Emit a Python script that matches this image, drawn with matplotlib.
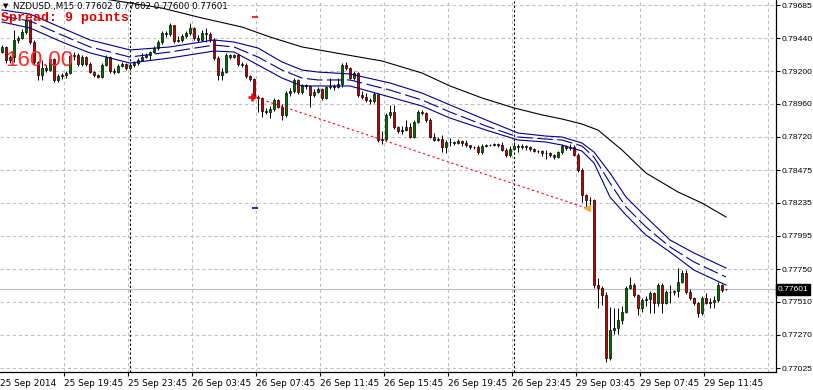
import numpy as np
import matplotlib.pyplot as plt
import matplotlib.transforms as mtransforms

# NZDUSD M15 свечи, цены в пунктах (1e-5)
first_open = 79341
closes = np.array([
    79378, 79282, 79304, 79429, 79443, 79487, 79575, 79414, 79268, 79172,
    79224, 79209, 79290, 79136, 79165, 79172, 79187, 79312, 79319, 79253,
    79304, 79253, 79194, 79172, 79158, 79246, 79304, 79202, 79194, 79238,
    79253, 79224, 79246, 79260, 79282, 79304, 79319, 79341, 79370, 79414,
    79480, 79473, 79539, 79422, 79429, 79458, 79480, 79517, 79443, 79429,
    79480, 79473, 79429, 79297, 79172, 79194, 79319, 79304, 79319, 79253,
    79246, 79165, 79143, 79011, 79004, 78909, 78901, 78923, 78989, 78938,
    78879, 79040, 79055, 79136, 79048, 79099, 79092, 79026, 79048, 79070,
    79004, 79084, 79092, 79084, 79106, 79246, 79224, 79150, 79187, 79026,
    79011, 78989, 78982, 79033, 78696, 78703, 78879, 78901, 78791, 78762,
    78769, 78791, 78718, 78828, 78901, 78894, 78843, 78718, 78696, 78703,
    78645, 78681, 78681, 78674, 78689, 78674, 78659, 78645, 78645, 78608,
    78652, 78659, 78659, 78667, 78659, 78623, 78586, 78630, 78652, 78645,
    78652, 78645, 78630, 78615, 78615, 78601, 78601, 78586, 78571, 78608,
    78652, 78637, 78645, 78586, 78476, 78293, 78256, 78256, 77633, 77611,
    77560, 77099, 77304, 77318, 77377, 77436, 77611, 77633, 77560, 77465,
    77524, 77531, 77575, 77502, 77633, 77502, 77582, 77582, 77590, 77655,
    77721, 77582, 77538, 77502, 77428, 77538, 77502, 77509, 77524, 77633,
    77597,
]) / 1e5
highs = np.array([
    79392, 79385, 79319, 79502, 79458, 79509, 79597, 79583, 79429, 79275,
    79282, 79246, 79319, 79297, 79180, 79187, 79202, 79326, 79341, 79334,
    79319, 79312, 79268, 79202, 79180, 79260, 79319, 79312, 79224, 79253,
    79268, 79260, 79260, 79275, 79297, 79334, 79334, 79348, 79385, 79429,
    79495, 79495, 79553, 79531, 79458, 79473, 79495, 79553, 79524, 79465,
    79502, 79517, 79487, 79443, 79312, 79224, 79334, 79326, 79326, 79326,
    79268, 79260, 79172, 79150, 79026, 79011, 78931, 78945, 79004, 78996,
    78960, 79055, 79077, 79150, 79143, 79106, 79106, 79099, 79070, 79084,
    79077, 79092, 79150, 79106, 79150, 79260, 79268, 79231, 79202, 79194,
    79055, 79040, 79004, 79048, 79026, 78762, 78894, 78953, 78953, 78799,
    78799, 78843, 78821, 78843, 78916, 78916, 78901, 78857, 78747, 78718,
    78733, 78696, 78711, 78689, 78703, 78696, 78696, 78659, 78652, 78659,
    78667, 78667, 78667, 78674, 78674, 78681, 78637, 78652, 78681, 78667,
    78667, 78659, 78652, 78637, 78623, 78623, 78623, 78608, 78593, 78615,
    78667, 78659, 78667, 78659, 78601, 78491, 78300, 78278, 78264, 77685,
    77626, 77582, 77472, 77465, 77465, 77480, 77626, 77692, 77648, 77568,
    77538, 77553, 77590, 77582, 77648, 77648, 77597, 77633, 77597, 77758,
    77743, 77743, 77604, 77546, 77509, 77553, 77575, 77538, 77553, 77655,
    77641,
]) / 1e5
lows = np.array([
    79334, 79260, 79260, 79268, 79407, 79436, 79473, 79400, 79253, 79136,
    79136, 79194, 79202, 79121, 79121, 79143, 79150, 79180, 79282, 79238,
    79238, 79238, 79187, 79158, 79150, 79150, 79238, 79187, 79180, 79187,
    79231, 79209, 79209, 79231, 79246, 79275, 79297, 79282, 79334, 79356,
    79400, 79451, 79458, 79407, 79414, 79414, 79443, 79465, 79429, 79414,
    79422, 79414, 79414, 79282, 79136, 79136, 79187, 79290, 79297, 79238,
    79231, 79150, 79128, 78996, 78901, 78865, 78887, 78857, 78909, 78931,
    78843, 78865, 79018, 79040, 79033, 79033, 79070, 78938, 79011, 79040,
    78989, 78996, 79070, 79062, 79077, 79084, 79209, 79143, 79136, 79011,
    78996, 78975, 78960, 78967, 78681, 78667, 78689, 78857, 78777, 78747,
    78740, 78762, 78711, 78711, 78821, 78879, 78828, 78711, 78689, 78689,
    78608, 78601, 78652, 78659, 78667, 78652, 78645, 78630, 78630, 78593,
    78593, 78645, 78652, 78652, 78645, 78615, 78571, 78571, 78623, 78608,
    78630, 78623, 78615, 78608, 78601, 78579, 78557, 78571, 78557, 78564,
    78593, 78623, 78623, 78579, 78462, 78242, 78205, 78220, 77611, 77465,
    77487, 77069, 77084, 77274, 77274, 77348, 77428, 77604, 77546, 77414,
    77436, 77480, 77428, 77428, 77480, 77428, 77494, 77502, 77560, 77546,
    77648, 77568, 77524, 77487, 77399, 77414, 77494, 77465, 77465, 77509,
    77582,
]) / 1e5
# текущий бар из заголовка: O H L C
last_bar = (0.77602, 0.77602, 0.77600, 0.77601)

ma_idx = [0, 7, 15, 22, 32, 42, 53, 58, 64, 70, 75, 79, 87, 97, 105, 112,
          121, 129, 136, 140, 145, 148, 152, 156, 161, 167, 173, 181]
ma_high = np.array([79649, 79619, 79517, 79429, 79356, 79378, 79429, 79414, 79370,
                    79268, 79209, 79194, 79180, 79114, 79040, 78953, 78843, 78747,
                    78725, 78718, 78674, 78608, 78454, 78278, 78132, 77963, 77868,
                    77758]) / 1e5
ma_mid = np.array([79605, 79568, 79465, 79378, 79304, 79341, 79392, 79378, 79304,
                   79209, 79150, 79136, 79136, 79062, 78989, 78901, 78799, 78718,
                   78703, 78696, 78652, 78571, 78381, 78205, 78059, 77912, 77802,
                   77692]) / 1e5
ma_low = np.array([79561, 79517, 79414, 79334, 79260, 79297, 79348, 79341, 79246,
                   79150, 79092, 79092, 79092, 79011, 78945, 78857, 78769, 78696,
                   78681, 78659, 78615, 78528, 78278, 78146, 77999, 77875, 77743,
                   77633]) / 1e5
slow_idx = [24, 32, 40, 50, 60, 67, 75, 85, 95, 105, 112, 120, 128, 135, 140,
            145, 149, 155, 161, 169, 175, 181]
slow_ma = np.array([79737, 79700, 79663, 79590, 79524, 79451, 79378, 79326, 79275,
                    79187, 79092, 79004, 78931, 78880, 78850, 78813, 78769, 78623,
                    78454, 78315, 78234, 78132]) / 1e5

# линия сделки
trade_idx = [63.75, 146]
trade_px = [0.79004, 0.78198]

yticks = [0.79685, 0.79440, 0.79200, 0.78960, 0.78720, 0.78475, 0.78235,
          0.77995, 0.77750, 0.77510, 0.77270, 0.77025]
xtick_labels = ['25 Sep 19:45', '25 Sep 23:45', '26 Sep 03:45', '26 Sep 07:45',
                '26 Sep 11:45', '26 Sep 15:45', '26 Sep 19:45', '26 Sep 23:45',
                '29 Sep 03:45', '29 Sep 07:45', '29 Sep 11:45']
day_breaks = [32, 128]

opens = np.r_[first_open / 1e5, closes[:-1]]
o = np.r_[opens, last_bar[0]]
h = np.r_[highs, last_bar[1]]
l = np.r_[lows, last_bar[2]]
c = np.r_[closes, last_bar[3]]
x = np.arange(len(c))

fig = plt.figure(figsize=(8.13, 3.9), dpi=100)
ax = fig.add_axes([0, 18 / 390, 776 / 813, 372 / 390])
ax.set_xlim(-0.5, 193.5)
ax.set_ylim(0.76996, 0.79722)

# сетка
grid_x = [15.6 + 16 * k for k in range(12)]
for gx in grid_x:
    ax.axvline(gx, color='#c0c0c0', lw=0.8, ls=(0, (3, 2.5)), zorder=0)
for gy in yticks:
    ax.axhline(gy, color='#c0c0c0', lw=0.8, ls=(0, (3, 2.5)), zorder=0)
for d in day_breaks:
    ax.axvline(d, color='black', lw=0.8, ls=(0, (2, 2)), zorder=0.5)
ax.axhline(last_bar[3], color='#c0c0c0', lw=0.9, zorder=0.6)

# свечи
up = c >= o
ax.vlines(x, l, h, color='black', lw=0.7, zorder=2)
body_lo = np.minimum(o, c)
body_h = np.maximum(np.abs(c - o), 0.000012)
ax.bar(x[up], body_h[up], bottom=body_lo[up], width=0.62, color='#0a6b0a',
       edgecolor='black', linewidth=0.5, zorder=3)
ax.bar(x[~up], body_h[~up], bottom=body_lo[~up], width=0.62, color='#a50f0f',
       edgecolor='black', linewidth=0.5, zorder=3)

# индикаторы
ax.plot(slow_idx, slow_ma, color='black', lw=0.8, zorder=4)
ax.plot(ma_idx, ma_high, color='#00008b', lw=0.8, zorder=4)
ax.plot(ma_idx, ma_mid, color='#00008b', lw=0.8, dashes=(14, 4), zorder=4)
ax.plot(ma_idx, ma_low, color='#00008b', lw=0.8, zorder=4)

# сделка
ax.plot(trade_idx, trade_px, color='red', lw=0.8, ls=(0, (2, 2.5)), zorder=5)
ax.plot([62.5], [0.79011], marker='+', color='red', ms=6, mew=1.8, zorder=6)
ax.plot([146.3], [0.78198], marker='<', color='#e8b040', ms=5, zorder=6)
ax.plot([63.3], [0.79597], marker='_', color='red', ms=5, mew=1.2, zorder=6)
ax.plot([63.3], [0.78198], marker='_', color='#0000cc', ms=5, mew=1.2, zorder=6)

# оси
for s in ['left', 'top']:
    ax.spines[s].set_visible(False)
for s in ['right', 'bottom']:
    ax.spines[s].set_color('black')
    ax.spines[s].set_linewidth(0.9)
ax.yaxis.tick_right()
ax.set_yticks(yticks)
ax.set_yticklabels([f'{v:.5f}' for v in yticks], family='Liberation Sans')
ax.tick_params(axis='y', length=3, width=0.8, pad=1, labelsize=6.1, colors='black')
ax.set_xticks(grid_x[:-1])
ax.set_xticklabels(xtick_labels)
ax.tick_params(axis='x', length=3, width=0.8, pad=2, labelsize=6.4)
for t in ax.get_xticklabels():
    t.set_ha('left')
off = mtransforms.ScaledTranslation(0, -5 / 72, fig.dpi_scale_trans)
ax.text(-0.5, 0, '25 Sep 2014',
        transform=mtransforms.blended_transform_factory(ax.transData, ax.transAxes) + off,
        ha='left', va='top', fontsize=6.4)

trans = mtransforms.blended_transform_factory(ax.transAxes, ax.transData)
ax.text(1.002, last_bar[3], '0.77601', transform=trans, ha='left', va='center',
        fontsize=6.1, family='Liberation Sans', color='white',
        bbox=dict(boxstyle='square,pad=0.2', fc='black', ec='black'))

# надписи
fig.text(3 / 813, 1 - 6 / 390, '▼', fontsize=5, va='center', ha='left')
fig.text(13 / 813, 1 - 6 / 390, 'NZDUSD.,M15 0.77602 0.77602 0.77600 0.77601',
         fontsize=6.2, va='center', ha='left')
fig.text(1 / 813, 1 - 18 / 390, 'Spread: 9 points', fontsize=9.5, color='#e00000',
         family='Liberation Mono', weight='bold', va='center', ha='left')
fig.text(5 / 813, 1 - 61 / 390, '160.00', fontsize=16, color='#ff2a2a',
         family='Liberation Sans', va='center', ha='left', zorder=10)

fig.savefig('out.png', dpi=100)
